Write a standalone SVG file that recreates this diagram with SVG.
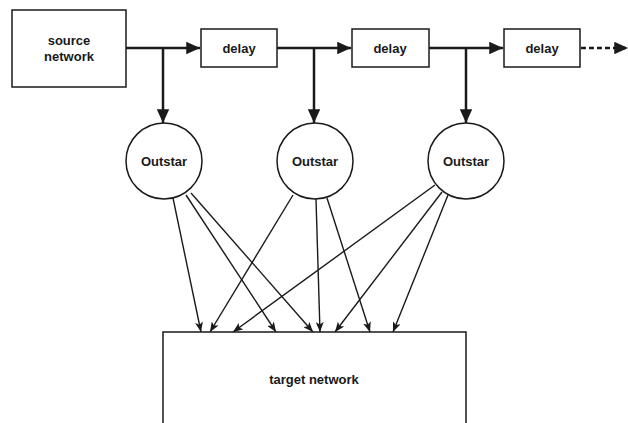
<svg xmlns="http://www.w3.org/2000/svg" width="628" height="423" viewBox="0 0 628 423">
<defs>
<style>
.box{fill:#fff;stroke:#1a1a1a;stroke-width:1.5}
.lbl{font-family:"Liberation Sans",Arial,sans-serif;font-weight:bold;font-size:13px;fill:#1a1a1a;text-anchor:middle;dominant-baseline:central}
.thick{stroke:#1a1a1a;stroke-width:2.5;fill:none}
.thin{stroke:#1a1a1a;stroke-width:1.4;fill:none;marker-end:url(#ah)}
</style>
<marker id="ahb" markerWidth="5.5" markerHeight="5" refX="5.5" refY="2.5" orient="auto" markerUnits="strokeWidth"><path d="M0,0 L5.5,2.5 L0,5 Z" fill="#1a1a1a"/></marker>
<marker id="ah" markerWidth="10" markerHeight="8" refX="10" refY="4" orient="auto" markerUnits="userSpaceOnUse"><path d="M0,0 L10,4 L0,8 L2.5,4 Z" fill="#1a1a1a"/></marker>
</defs>
<g id="connectors">
<path class="thick" d="M126,48 H200" marker-end="url(#ahb)"/>
<path class="thick" d="M277,48 H351" marker-end="url(#ahb)"/>
<path class="thick" d="M429,48 H503" marker-end="url(#ahb)"/>
<path class="thick" d="M581,48 H628" stroke-dasharray="5,3" marker-end="url(#ahb)"/>
<path class="thick" d="M163,48 V123" marker-end="url(#ahb)"/>
<path class="thick" d="M314,48 V123" marker-end="url(#ahb)"/>
<path class="thick" d="M466,48 V123" marker-end="url(#ahb)"/>
<line class="thin" x1="173" y1="198" x2="201" y2="332"/>
<line class="thin" x1="186" y1="195" x2="276" y2="332"/>
<line class="thin" x1="191" y1="193" x2="313" y2="332"/>
<line class="thin" x1="293" y1="195" x2="210" y2="332"/>
<line class="thin" x1="316" y1="199" x2="320" y2="332"/>
<line class="thin" x1="327" y1="198" x2="370" y2="332"/>
<line class="thin" x1="435" y1="185" x2="233" y2="332"/>
<line class="thin" x1="442" y1="192" x2="335" y2="332"/>
<line class="thin" x1="448" y1="195" x2="393" y2="332"/>
</g>
<g id="source"><rect class="box" x="12" y="10" width="114" height="77"/><text class="lbl" x="69" y="40">source</text><text class="lbl" x="69" y="56">network</text></g>
<g id="delay1"><rect class="box" x="201" y="29" width="76" height="38"/><text class="lbl" x="239" y="48">delay</text></g>
<g id="delay2"><rect class="box" x="352" y="29" width="77" height="38"/><text class="lbl" x="390" y="48">delay</text></g>
<g id="delay3"><rect class="box" x="504" y="29" width="76" height="38"/><text class="lbl" x="542" y="48">delay</text></g>
<g id="outstar1"><circle class="box" cx="164" cy="161" r="38"/><text class="lbl" x="164" y="161">Outstar</text></g>
<g id="outstar2"><circle class="box" cx="315" cy="161" r="38"/><text class="lbl" x="315" y="161">Outstar</text></g>
<g id="outstar3"><circle class="box" cx="466" cy="161" r="38"/><text class="lbl" x="466" y="161">Outstar</text></g>
<g id="target"><path class="box" d="M163,424 V332 H466 V424"/><text class="lbl" x="314" y="379">target network</text></g>
</svg>
